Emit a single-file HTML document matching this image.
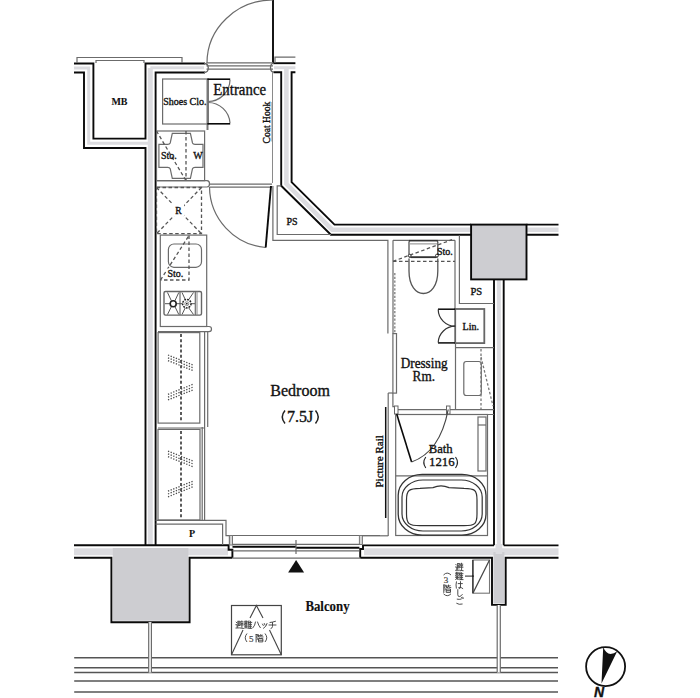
<!DOCTYPE html>
<html><head><meta charset="utf-8">
<style>
html,body{margin:0;padding:0;background:#fff;width:700px;height:698px;overflow:hidden}
svg{display:block}
.d{stroke:#0a0a0a;stroke-width:1.9;fill:none;stroke-linejoin:miter}
.g{stroke:#6b6b6b;stroke-width:1.2;fill:none}
.gl{stroke:#8a8a8a;stroke-width:1;fill:none}
.gd{stroke:#555;stroke-width:1.3;fill:none;stroke-dasharray:3.5 2.5}
.wall{fill:#fff;stroke:none}
.band{fill:none;stroke:#dcdce0;stroke-linejoin:miter}
.col{fill:#cdcdd1}
text{font-family:"Liberation Serif",serif;fill:#111;stroke:#111;stroke-width:0.35}
</style></head>
<body>
<svg width="700" height="698" viewBox="0 0 700 698">
<defs>
  <g id="k_hi" fill="none" stroke-linecap="round">
    <path d="M0.6,1.6 L1.4,2.4 M0.3,4.2 H1.6 V6.6 M0.4,7.5 Q4,7 8,7.9"/>
    <path d="M2.5,0.8 H4.6 V2.4 H2.5 M2.5,0.8 V4.2 Q2.5,6 2,6.8 M3.1,3.4 H4.5 V5 H3.1 Z"/>
    <path d="M5,1.4 H7.6 M6.3,0.4 V1.4 M5.2,2.9 H7.5 M5,4.4 H7.8 M6.4,2.9 V6.8"/>
  </g>
  <g id="k_nan" fill="none" stroke-linecap="round">
    <path d="M0.3,1.4 H3.6 M1.2,0.4 V2.4 M2.7,0.4 V2.4 M1,3 H3 V4.4 H1 Z M0.4,5.6 H3.6 M2,4.4 V7.8 M0.4,7.6 L2,6.2 L3.6,7.6"/>
    <path d="M4.9,0.3 L4.3,2.8 M4.8,1.8 V7.9 M4.9,1.9 H7.8 M4.9,3.9 H7.5 M4.9,5.8 H7.5 M4.9,7.8 H7.9 M6.4,0.8 V7.8"/>
  </g>
  <g id="k_ha" fill="none" stroke-linecap="round">
    <path d="M1.2,1 Q0.4,4 1.1,7.4 M3,2.8 H7.2 M5.3,0.8 V6.2 Q5.3,7.9 3.9,7.7 Q2.7,7.3 3.9,6.5 Q6,6.3 7.6,7.7"/>
  </g>
  <g id="k_shi" fill="none" stroke-linecap="round">
    <path d="M2.6,0.6 V5.8 Q2.6,7.9 4.6,7.5 Q6.1,7.1 7.1,5.5"/>
  </g>
  <g id="k_go" fill="none" stroke-linecap="round">
    <path d="M2,2.2 Q4,2.7 6,2.1 M1.5,6.4 Q3.8,8 7,7.1 M6.4,0.4 L7,1.5 M7.6,0.2 L8.1,1.3"/>
  </g>
  <g id="k_hat" fill="none" stroke-linecap="round">
    <path d="M3,1.5 Q2.6,5 0.5,7.2 M5,1.5 Q6,5 7.8,7.2"/>
  </g>
  <g id="k_tsu" fill="none" stroke-linecap="round">
    <path d="M2,3.6 L2.8,5 M3.8,3 L4.5,4.5 M6.6,3 Q6,6 3,7.8"/>
  </g>
  <g id="k_chi" fill="none" stroke-linecap="round">
    <path d="M1.5,2 Q4,1.8 7,0.8 M0.5,4.5 H7.5 M4,2 V6 Q4,7.6 2.5,8"/>
  </g>
  <g id="k_kai" fill="none" stroke-linecap="round">
    <path d="M0.6,0.5 V8 M0.6,0.5 H2.2 L1.3,3.2 Q2.8,4.2 1.8,5.6"/>
    <path d="M3,0.8 V3 H4.6 M3,2 L4.5,1.5 M5.3,0.5 V2.5 Q5.3,3.2 7.6,3 M5.3,1.8 L7,1.2 M3.4,4.5 H7.3 V7.9 H3.4 Z M3.4,6.2 H7.3"/>
  </g>
</defs>
<!-- ============ WALLS ============ -->
<g id="walls">
  <!-- group 1: top-left, MB, left wall -->
  <polygon class="wall" points="74,63.5 93.4,63.5 93.4,138.6 145.5,138.6 145.5,63.5 205,63.5 205,72.5 155.6,72.5 155.6,545.3 145.5,545.3 145.5,148 84,148 84,72.5 74,72.5"/>
  <path class="band" d="M74,68 H88.7 V143.3 H150.5" stroke-width="3"/><path class="band" d="M150.3,68 V545" stroke-width="5"/><path class="band" d="M150.3,67.8 H204" stroke-width="3"/>
  <polyline class="d" points="74,63.5 93.4,63.5 93.4,138.6 145.5,138.6 145.5,63.5 205,63.5"/><polyline class="d" points="205,72.5 155.6,72.5 155.6,545.3"/><path d="M204,63.5 Q208.3,63.5 208.3,68 Q208.3,72.5 204,72.5" fill="none" stroke="#666" stroke-width="1.3"/>
  <polyline class="d" points="145.5,545.3 145.5,148 84,148 84,72.5 74,72.5"/>
  <!-- group 2: entrance right wall + diagonal -->
  <polygon class="wall" points="273,63.2 295.4,63.2 295.4,72.2 291.6,72.2 291.6,182.2 334.5,224.6 471.1,224.6 471.1,234.8 330.9,234.8 281.2,185.8 281.2,72.2 273,72.2"/>
  <path class="band" d="M274,67.7 H295.4" stroke-width="3"/><path class="band" d="M286.4,67.7 V183.9 L332.2,229.7 H471" stroke-width="4.6"/>
  <polyline class="d" points="295.4,63.2 273,63.2"/><polyline class="d" points="273.5,72.2 281.2,72.2 281.2,185.8 330.9,234.8 471.1,234.8"/><path d="M274,63.2 Q270.5,63.5 270.5,67.7 Q270.5,72 274,72.2" fill="none" stroke="#666" stroke-width="1.3"/>
  <polyline class="d" points="295.4,72.2 291.6,72.2 291.6,182.2 334.5,224.6 471.1,224.6"/>
  <!-- right of column -->
  <polygon class="wall" points="526.5,224.6 558.5,224.6 558.5,234.8 526.5,234.8"/>
  <path class="band" d="M526.5,229.7 H558.5" stroke-width="4.6"/>
  <line class="d" x1="526.5" y1="224.6" x2="558.5" y2="224.6"/>
  <line class="d" x1="526.5" y1="234.8" x2="558.5" y2="234.8"/>
  <!-- right wall below column -->
  <polygon class="wall" points="494,279.4 503.7,279.4 503.7,551 494,551"/>
  <path class="band" d="M498.85,279.4 V551" stroke-width="4"/>
  <line class="d" x1="494" y1="279.4" x2="494" y2="545.4"/>
  <line class="d" x1="503.7" y1="279.4" x2="503.7" y2="545.4"/>
  <!-- bottom wall left -->
  <polygon class="wall" points="74,545.3 228.6,545.3 228.6,549.7 232.4,549.7 232.4,557.7 189.6,557.7 189.6,622.2 111.4,622.2 111.4,557.7 74,557.7"/>
  <path class="band" d="M74,551.7 H228" stroke-width="7"/>
  <rect class="col" x="112.8" y="548" width="75.6" height="72.8"/>
  <polyline class="d" points="74,545.3 228.6,545.3 228.6,549.7 232.4,549.7 232.4,557.7"/>
  <polyline class="d" points="74,557.7 111.4,557.7 111.4,622.2 189.6,622.2 189.6,557.7 232.4,557.7"/>
  <!-- bottom wall right -->
  <polygon class="wall" points="363,545.4 558.5,545.4 558.5,557.7 505.7,557.7 505.7,604.9 492,604.9 492,557.7 360.2,557.7 360.2,549 363,549"/>
  <path class="band" d="M364,551.7 H558.5" stroke-width="7"/>
  <rect class="col" x="493.4" y="552" width="11" height="51.6"/>
  <rect x="495.5" y="544" width="6.7" height="10" fill="#dcdce0"/>
  <polyline class="d" points="494,545.4 363,545.4 363,549 360.2,549 360.2,557.7"/>
  <line class="d" x1="503.7" y1="545.4" x2="558.5" y2="545.4"/>
  <polyline class="d" points="558.5,557.7 505.7,557.7 505.7,604.9 492,604.9 492,557.7 360.2,557.7"/>
  <!-- column top right -->
  <rect x="471.1" y="224.6" width="55.4" height="54.8" fill="#cdcdd1" stroke="#0a0a0a" stroke-width="1.9"/>
</g>

<!-- ============ PARAPET / CORRIDOR ============ -->
<g>
  <polyline class="g" points="77,63 77,57.5 182,57.5 182,63"/>
  <polyline class="g" points="96,63 96,60.5 144,60.5 144,63"/>
  <polyline class="g" points="275,63 275,57.2 295.4,57.2"/>
</g>

<!-- ============ ENTRANCE ============ -->
<g>
  <line class="d" x1="273" y1="0" x2="273" y2="62.8"/>
  <path class="g" d="M207,63 A66,63 0 0 1 273,0"/>
  <line class="g" x1="206.5" y1="62.8" x2="273" y2="62.8"/>
  <line class="g" x1="206.5" y1="65.8" x2="273" y2="65.8"/>
  <line class="g" x1="206.5" y1="69.2" x2="273" y2="69.2"/>
  <!-- shoes closet -->
  <rect class="g" x="162.6" y="79" width="45.7" height="45"/>
  <line x1="207.5" y1="79" x2="207.5" y2="130" stroke="#777" stroke-width="2"/>
  <line class="d" x1="207.3" y1="79.2" x2="230.2" y2="79.2" style="stroke-width:1.6"/>
  <line class="d" x1="207.3" y1="123.8" x2="230.2" y2="123.8" style="stroke-width:1.6"/>
  <path class="g" d="M230,80 A22,22 0 0 1 208,101.5"/>
  <path class="g" d="M230,123 A22,22 0 0 0 208,102.5"/>
  <text transform="translate(213.3,94.6) scale(0.94,1)" font-size="15.8">Entrance</text>
  <text x="163.2" y="104.7" font-size="10">Shoes Clo.</text>
  <text transform="translate(269.7,143.4) rotate(-90) scale(0.96,1.05)" font-size="10">Coat Hook</text>
  <line class="g" x1="272.2" y1="102" x2="272.2" y2="141.4"/>
  <line class="gl" x1="272.5" y1="72" x2="272.5" y2="183"/>
  <text x="111.4" y="105" font-size="10" font-weight="bold" style="stroke-width:0.1">MB</text>
</g>

<!-- ============ WASHER / FRIDGE / DOOR ============ -->
<g>
  <rect class="g" x="156.5" y="131" width="48.1" height="49.7"/>
  <path class="g" d="M172.3,133.4 H190.4 L192.5,143 Q193,144.4 195,144.4 H203 V167.3 H195 Q193,167.3 192.5,168.7 L190.4,178.3 H172.3 L170.2,168.7 Q169.7,167.3 167.7,167.3 H158.9 V144.4 H167.7 Q169.7,144.4 170.2,143 Z"/>
  <line class="gd" x1="186" y1="131" x2="186" y2="180.7"/>
  <line class="gd" x1="156.5" y1="131" x2="186" y2="180.7"/>
  <text x="161" y="159.4" font-size="10">Sto.</text>
  <text x="193.2" y="159.4" font-size="10">W</text>
  <!-- threshold -->
  <path class="g" d="M156,180.7 H207 Q209.5,180.7 209.5,183.8 Q209.5,187 207,187 H156"/>
  <line class="g" x1="209.5" y1="184.2" x2="272" y2="184.2"/>
  <line class="g" x1="209.5" y1="187.2" x2="272" y2="187.2"/>
  <!-- door -->
  <path class="g" d="M209.5,187 A61.5,61.5 0 0 0 265.7,247.5"/>
  <line class="d" x1="271" y1="186" x2="265.7" y2="247.5"/>
  <!-- fridge -->
  <rect class="gd" x="156.5" y="187.5" width="45" height="46.2"/>
  <line class="gd" x1="156.5" y1="187.5" x2="201.5" y2="233.7"/>
  <line class="gd" x1="201.5" y1="187.5" x2="156.5" y2="233.7"/>
  <rect x="172" y="204" width="12" height="12" fill="#fff"/>
  <text x="175.2" y="213.6" font-size="9.6">R</text>
  <!-- PS box -->
  <polyline class="g" points="272.9,186 272.9,240.3 387.9,240.3 387.9,333.6"/>
  <polyline class="g" points="281.2,185.8 277.2,185.8 277.2,234.5 331,234.5"/>
  <text x="286.5" y="224.5" font-size="10">PS</text>
</g>

<!-- ============ KITCHEN ============ -->
<g>
  <rect class="g" x="160.3" y="235.1" width="46.4" height="91.4"/>
  <path class="g" d="M160.3,326.5 H209 Q211.5,326.5 211.5,329 Q211.5,331.7 209,331.7 H158"/>
  <rect class="g" x="168.4" y="244" width="33.1" height="23.3" rx="5.5"/>
  <polyline class="gd" points="189,235.5 189,280 160.5,280"/>
  <line class="gd" x1="160.5" y1="280" x2="189" y2="235.5"/>
  <rect x="166" y="268.5" width="18" height="9" fill="#fff"/>
  <text x="167.5" y="276.7" font-size="10">Sto.</text>
  <!-- stove -->
  <rect x="164" y="291.5" width="37.5" height="23.6" rx="1.5" fill="none" stroke="#666" stroke-width="1.4"/>
  <line class="g" x1="180" y1="291.5" x2="180" y2="315.1"/>
  <line class="g" x1="195.3" y1="291.5" x2="195.3" y2="315.1"/>
  <line class="gl" x1="197" y1="291.5" x2="197" y2="315.1"/>
  <path d="M167.5,292.5 L171.3,300.6 M178.8,292.5 L175,300.6 M167.5,314.5 L171.3,306.8 M178.8,314.5 L175,306.8 M165,303.7 H170 M176.4,303.7 H180 M182,292.5 L185.3,299.7 M193.5,292.5 L188.6,299.7 M182,314.5 L185.3,307.7 M193.5,314.5 L188.6,307.7 M180,303.7 H182.5 M191,303.7 H195" fill="none" stroke="#555" stroke-width="1"/>
  <circle cx="173.2" cy="303.7" r="3" fill="#fff" stroke="#222" stroke-width="1.6"/>
  <circle cx="186.8" cy="303.7" r="4.2" fill="#fff" stroke="#222" stroke-width="1.5" stroke-dasharray="1.8 1"/>
  <circle cx="186.8" cy="303.7" r="2" fill="none" stroke="#777" stroke-width="0.8"/>
  <circle cx="186.8" cy="303.7" r="0.9" fill="#222"/>
</g>

<!-- ============ CLOSETS ============ -->
<g>
  <rect class="g" x="158.1" y="332.6" width="41.7" height="90.5"/>
  <line class="g" x1="204.6" y1="332" x2="204.6" y2="427"/>
  <line class="g" x1="207.7" y1="332" x2="207.7" y2="427"/>
  <line class="g" x1="158" y1="428" x2="205" y2="428"/>
  <line class="gd" x1="181" y1="334" x2="181" y2="422" style="stroke-dasharray:3 2.2;stroke:#333;stroke-width:1.6"/>
  <rect class="g" x="158" y="429.4" width="42" height="90.6"/>
  <line class="g" x1="202.2" y1="427" x2="202.2" y2="520"/>
  <line class="g" x1="204.6" y1="427" x2="204.6" y2="520"/>
  <line class="gd" x1="181" y1="431" x2="181" y2="519" style="stroke-dasharray:3 2.2;stroke:#333;stroke-width:1.6"/>
  <g stroke="#4a4a4a" stroke-width="1.3" stroke-dasharray="1.3 1.5" fill="none">
    <path d="M168,355.0 L193,365.0 M168,357.8 L193,367.8 M168,360.6 L193,370.6"/>
    <path d="M168,399.9 L193,389.9 M168,397.1 L193,387.1 M168,394.3 L193,384.3"/>
    <path d="M168,451.1 L193,461.1 M168,453.9 L193,463.9 M168,456.7 L193,466.7"/>
    <path d="M168,496.8 L193,486.8 M168,494.0 L193,484.0 M168,491.2 L193,481.2"/>
  </g>
  <!-- P box -->
  <polyline class="g" points="155.6,520.3 226,520.3 226,535.7 229.4,535.7 229.4,545"/>
  <polyline class="g" points="155.6,524.2 222.6,524.2 222.6,545"/>
  <text x="189" y="537.4" font-size="10" font-weight="bold" style="stroke-width:0.1">P</text>
</g>

<!-- ============ WINDOW ============ -->
<g>
  <line class="g" x1="229.5" y1="535.5" x2="380" y2="535.5"/>
  <rect x="229.6" y="535.5" width="2.9" height="9.5" fill="#d6d6d6" stroke="#777" stroke-width="1"/>
  <rect x="359.4" y="535.5" width="3" height="9" fill="#d6d6d6" stroke="#777" stroke-width="1"/>
  <line class="g" x1="232.5" y1="544.3" x2="359.4" y2="544.3"/>
  <line class="d" x1="232.5" y1="546.8" x2="296" y2="546.8"/>
  <line class="d" x1="296" y1="547.8" x2="359.4" y2="547.8"/>
  <line class="g" x1="232.5" y1="550.9" x2="359.4" y2="550.9"/>
  <line class="g" x1="232.5" y1="558.2" x2="360.2" y2="558.2"/>
  <line class="g" x1="296" y1="540" x2="296" y2="554"/>
  <polygon points="296.1,560 288.1,572.6 304.1,572.6" fill="#111"/>
</g>

<!-- ============ TOILET / DRESSING ============ -->
<g>
  <!-- partitions -->
  <line class="g" x1="393" y1="240.3" x2="393" y2="333.6"/>
  <line class="g" x1="393" y1="240.3" x2="455" y2="240.3"/>
  <line class="gd" x1="394.8" y1="273" x2="394.8" y2="333" style="stroke:#888;stroke-dasharray:2.2 1.6;stroke-width:1.4"/>
  <rect class="g" x="392.9" y="333.6" width="3.6" height="59.5"/>
  <line class="g" x1="388.2" y1="393" x2="388.2" y2="536"/>
  <polyline class="g" points="392.9,393 392.9,406.7 396,406.7 396,410"/>
  <line class="g" x1="388.2" y1="393" x2="392.9" y2="393"/>
  <line class="g" x1="362" y1="535.8" x2="388.2" y2="535.8"/>
  <!-- toilet right partition / PS -->
  <line class="g" x1="455" y1="240.3" x2="455" y2="309"/>
  <polyline class="g" points="459.4,235 459.4,303.5 494,303.5"/>
  <text x="470.5" y="295.2" font-size="10.5">PS</text>
  <!-- toilet -->
  <rect x="409" y="240.6" width="28.8" height="16.8" rx="1.5" fill="none" stroke="#555" stroke-width="1.3"/>
  <line x1="409" y1="240.6" x2="437.8" y2="240.6" stroke="#333" stroke-width="1.4"/>
  <line x1="410" y1="243.9" x2="437" y2="243.9" stroke="#888" stroke-width="1"/>
  <line x1="411" y1="257.2" x2="436" y2="257.2" stroke="#333" stroke-width="1.8"/>
  <circle cx="409.8" cy="255.6" r="1.4" fill="#fff" stroke="#333" stroke-width="1"/>
  <circle cx="436.9" cy="255.6" r="1.4" fill="#fff" stroke="#333" stroke-width="1"/>
  <path d="M409,258.5 V271 C409,286 416,293.5 423.4,293.5 C430.8,293.5 437.8,286 437.8,271 V258.5" fill="none" stroke="#555" stroke-width="1.3"/>
  <line class="gd" x1="393" y1="261.3" x2="455" y2="261.3"/>
  <line class="gd" x1="393" y1="261.3" x2="452" y2="239.7"/>
  <rect x="439" y="246.5" width="14" height="9.5" fill="#fff"/>
  <text x="437" y="255" font-size="10">Sto.</text>
  <!-- Lin -->
  <rect x="455.2" y="309" width="29.1" height="34.1" fill="none" stroke="#666" stroke-width="1.8"/>
  <line class="d" x1="438" y1="309.2" x2="455.2" y2="309.2" style="stroke-width:1.5"/>
  <line class="d" x1="438" y1="342.9" x2="455.2" y2="342.9" style="stroke-width:1.5"/>
  <path class="g" d="M438.2,309.5 A17,17 0 0 0 455.2,326.2" style="stroke:#333"/>
  <path class="g" d="M438.2,342.6 A17,17 0 0 1 455.2,326.2" style="stroke:#333"/>
  <text x="462.6" y="329.7" font-size="10">Lin.</text>
  <!-- vanity -->
  <line class="g" x1="455.5" y1="342" x2="455.5" y2="410"/>
  <line class="g" x1="455.5" y1="347.6" x2="494" y2="347.6"/>
  <rect class="g" x="463.8" y="361.5" width="17.5" height="34" rx="2.5"/>
  <line class="gd" x1="481" y1="349" x2="481" y2="409" style="stroke:#777;stroke-dasharray:2.5 2"/>
  <line class="gd" x1="481" y1="357" x2="493" y2="406" style="stroke:#777;stroke-dasharray:2.5 2"/>
  <text transform="translate(400.7,368.3) scale(0.93,1)" font-size="14.2">Dressing</text>
  <text transform="translate(412.6,381.4) scale(0.93,1)" font-size="14.2">Rm.</text>
  <!-- bath top frame -->
  <line class="g" x1="396" y1="409.7" x2="494" y2="409.7"/>
  <line class="g" x1="396" y1="414.5" x2="494" y2="414.5"/>
  <rect x="394.5" y="406" width="3.5" height="8" fill="#fff" stroke="#666" stroke-width="1"/>
  <rect x="446.5" y="406" width="3.5" height="8" fill="#fff" stroke="#666" stroke-width="1"/>
</g>

<!-- ============ BATH ============ -->
<g>
  <rect class="g" x="395.7" y="414.5" width="91.8" height="121"/>
  <line class="g" x1="395.7" y1="475.8" x2="487.5" y2="475.8"/>
  <polyline class="d" points="396.7,414 411.6,462 " style="stroke-width:1.6"/>
  <path class="g" d="M411.6,462 Q440,452 448.2,409.5" style="stroke:#444"/>
  <rect class="g" x="478" y="417" width="8" height="54"/>
  <line class="g" x1="478" y1="425" x2="486" y2="425"/>
  <rect x="398.2" y="474.3" width="87.8" height="60.9" rx="24" ry="21" fill="none" stroke="#333" stroke-width="1.3"/>
  <rect x="402" y="480" width="80.2" height="51" rx="21" ry="17" fill="none" stroke="#333" stroke-width="1.2"/>
  <path d="M406.5,500 C406.5,490 409,488.5 420,488.3 L433,487.6 Q441,484.3 449,487.6 L464,488.3 C475,488.5 477,490 477,500 L477,514 C477,524 475,525.7 464,525.7 L420,525.7 C409,525.7 406.5,524 406.5,514 Z" fill="none" stroke="#333" stroke-width="1.2"/>
  <text transform="translate(428.7,452.6) scale(0.95,1)" font-size="13.4">Bath</text>
  <text x="429" y="466" font-size="12.8">1216</text><path d="M425.8,457 Q421.8,462.5 425.8,468" fill="none" stroke="#222" stroke-width="1.1"/><path d="M455.5,457 Q459.5,462.5 455.5,468" fill="none" stroke="#222" stroke-width="1.1"/>
  <!-- picture rail -->
  <line x1="385.7" y1="407" x2="385.7" y2="518" stroke="#111" stroke-width="1.5"/>
  <text transform="translate(383,487.5) rotate(-90)" font-size="11">Picture Rail</text>
</g>

<!-- ============ BALCONY ============ -->
<g>
  <!-- ladder -->
  <rect x="472.9" y="560" width="16.6" height="33.2" fill="none" stroke="#777" stroke-width="1.1"/><line x1="472.9" y1="560" x2="472.9" y2="593.2" stroke="#222" stroke-width="1.2"/>
  <line x1="473" y1="593" x2="489.5" y2="560" stroke="#444" stroke-width="1.2"/>
  <line x1="465" y1="576.1" x2="473" y2="576.1" stroke="#222" stroke-width="1"/><circle cx="473" cy="576.1" r="0.9" fill="#222"/>
  <!-- balcony edge lines -->
  <g stroke="#555" stroke-width="1.5">
    <line x1="74.2" y1="657.8" x2="558" y2="657.8"/>
    <line x1="74.2" y1="667.8" x2="558" y2="667.8"/>
    <line x1="74.2" y1="672.4" x2="558" y2="672.4"/>
    <line x1="74.2" y1="681" x2="558" y2="681"/>
    <line x1="74.2" y1="692" x2="558" y2="692"/>
  </g>
  <!-- railing posts -->
  <rect x="148.7" y="622" width="2.7" height="50.5" fill="#fff"/>
  <rect x="497.2" y="605" width="3.1" height="67.5" fill="#fff"/>
  <line class="g" x1="148.7" y1="622" x2="148.7" y2="672"/>
  <line class="g" x1="151.4" y1="622" x2="151.4" y2="672"/>
  <line class="g" x1="497.2" y1="605" x2="497.2" y2="672"/>
  <line class="g" x1="500.3" y1="605" x2="500.3" y2="672"/>
    <!-- hatch -->
  <rect x="231.5" y="605.5" width="49.8" height="49.3" fill="none" stroke="#444" stroke-width="1.2"/>
  <polyline points="243,630 231.5,654.8" fill="none" stroke="#444" stroke-width="1.1"/>
  <polyline points="269.5,630 281.3,654.8" fill="none" stroke="#444" stroke-width="1.1"/>
  <polyline points="250,618 256.4,605.5 263,618" fill="none" stroke="#444" stroke-width="1.1"/>
  <text transform="translate(305.4,611.1) scale(0.93,1)" font-size="13.8" font-weight="bold" style="stroke-width:0.15">Balcony</text>
  <!-- japanese labels -->
  <g stroke="#444" stroke-width="0.95">
    <use href="#k_hi" transform="translate(455.2,562.8)"/>
    <use href="#k_nan" transform="translate(455.2,571.8)"/>
    <use href="#k_ha" transform="translate(455.2,580.8)"/>
    <use href="#k_shi" transform="translate(455.2,589)"/>
    <use href="#k_go" transform="translate(455.2,597)"/>
    <path d="M443.5,575 Q447.2,571.2 451,575" fill="none"/>
    <use href="#k_kai" transform="translate(443.2,584.5)"/>
    <path d="M443.5,593.8 Q447.2,597.6 451,593.8" fill="none"/>
    <use href="#k_hi" transform="translate(235.5,620.5)"/>
    <use href="#k_nan" transform="translate(244,620.5)"/>
    <use href="#k_hat" transform="translate(252.5,620.5)"/>
    <use href="#k_tsu" transform="translate(260.5,620.5)"/>
    <use href="#k_chi" transform="translate(268.5,620.5)"/>
    <path d="M247,633.5 Q243.5,637.8 247,642" fill="none"/>
    <use href="#k_kai" transform="translate(255.5,634)"/>
    <path d="M265,633.5 Q268.5,637.8 265,642" fill="none"/>
  </g>
  <text x="443.8" y="583.2" font-size="9" style="fill:#444;stroke:#444;stroke-width:0.2">3</text>
  <text x="249" y="641.8" font-size="9" style="fill:#444;stroke:#444;stroke-width:0.2">5</text>
  <!-- compass -->
  <circle cx="605.6" cy="666.6" r="19.5" fill="none" stroke="#111" stroke-width="1.8"/>
  <path d="M601.5,683.5 L603.2,647.2 Q606,653.5 610.5,654 Q614,653.8 617.2,651.2 Z" fill="#111"/>
  <text x="594" y="697.2" font-size="14" font-weight="bold" font-style="italic" style="font-family:'Liberation Sans',sans-serif">N</text>
</g>

<!-- ============ BEDROOM ============ -->
<g>
  <text x="270.3" y="396" font-size="16">Bedroom</text>
  <text x="287" y="421.5" font-size="16">7.5J</text>
  <path d="M285,410.5 Q279.5,417 285,423.5" fill="none" stroke="#222" stroke-width="1.5"/>
  <path d="M315.5,410.5 Q321,417 315.5,423.5" fill="none" stroke="#222" stroke-width="1.5"/>
</g>
</svg>
</body></html>
